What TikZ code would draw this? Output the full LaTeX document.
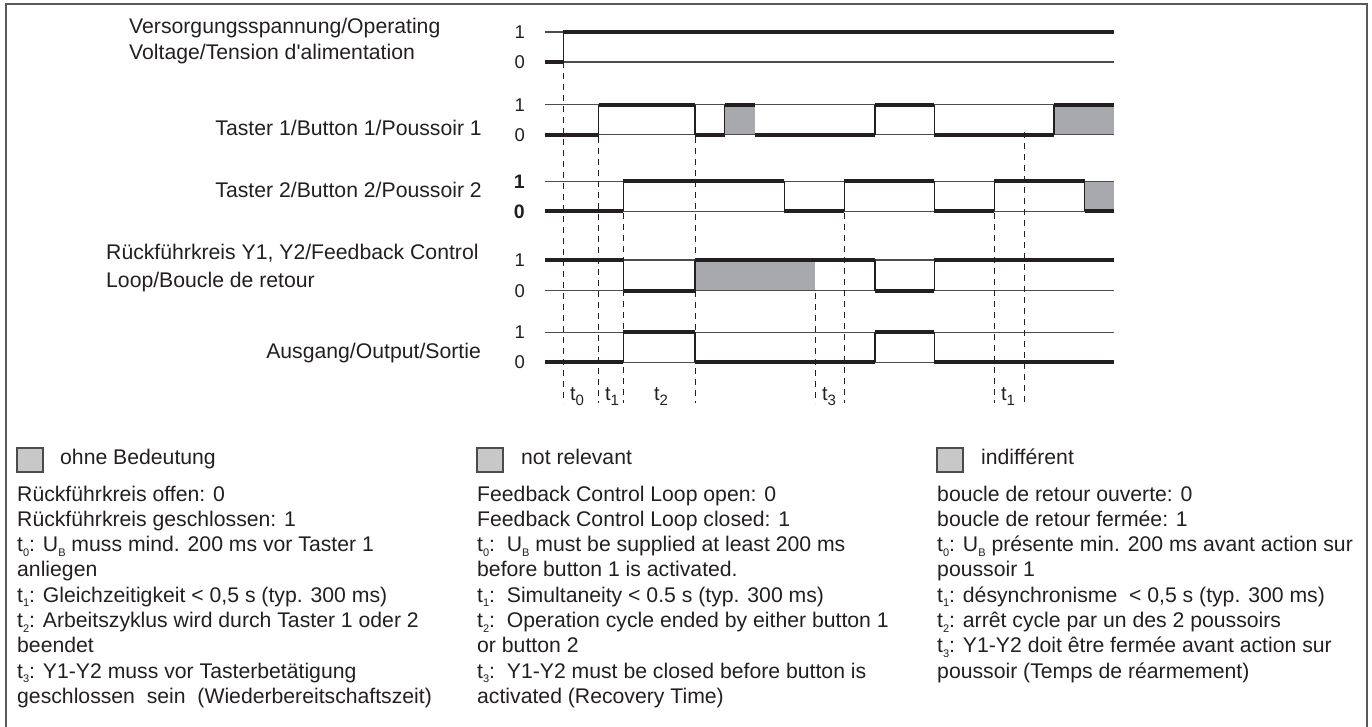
\documentclass[tikz,border=0pt]{standalone}
\usepackage{fontspec}
\setmainfont{Liberation Sans}
\definecolor{ink}{HTML}{231F20}
\definecolor{dcare}{HTML}{A7A9AC}
\definecolor{legfill}{HTML}{C8C8C8}
\newcommand\sbx[1]{\raisebox{-4.5pt}{\fontsize{11}{11}\selectfont #1}}
\newcommand\tsb[1]{\raisebox{-5pt}{\fontsize{15}{15}\selectfont #1}}
\tikzset{
 lvl/.style={line width=1.1pt, draw=black!70},
 sig/.style={line width=4pt, draw=ink},
 edgeline/.style={line width=1.3pt, draw=ink},
 dsh/.style={line width=1pt, draw=ink, dash pattern=on 6pt off 5pt},
 dcbox/.style={fill=dcare},
 lab/.style={inner sep=0pt, font=\fontsize{21.2}{25}\selectfont, text=ink},
 dig/.style={inner sep=0pt, font=\fontsize{18.5}{18.5}\selectfont, text=ink, anchor=east},
 tl/.style={inner sep=0pt, font=\fontsize{20}{20}\selectfont, text=ink, anchor=base},
 leg/.style={inner sep=0pt, font=\fontsize{21.2}{25}\selectfont, text=ink, anchor=base west},
 legbox/.style={fill=legfill, draw=black!70, line width=1.2pt},
}
\begin{document}
\begin{tikzpicture}[x=1pt,y=-1pt]
\useasboundingbox (0,0) rectangle (1372,726);
% frame
\draw[black!65, line width=1.5pt] (6,730) -- (6,4) -- (1367,4) -- (1367,730);

% row labels
\node[lab, anchor=base west] (v1) at (129,33) {Versorgungsspannung/Operating};
\node[lab, anchor=base west] (v2) at (129,59) {Voltage/Tension d\textquotesingle alimentation};
\node[lab, anchor=base east] (b1) at (482,135) {Taster 1/Button 1/Poussoir 1};
\node[lab, anchor=base east] (b2) at (482,197) {Taster 2/Button 2/Poussoir 2};
\node[lab, anchor=base west] (f1) at (106,259) {Rückführkreis Y1, Y2/Feedback Control};
\node[lab, anchor=base west] (f2) at (106,287) {Loop/Boucle de retour};
\node[lab, anchor=base east] (o1) at (481,358) {Ausgang/Output/Sortie};

% level digits
\node[dig] (d11) at (525,32) {1};
\node[dig] (d10) at (525,62) {0};
\node[dig] (d21) at (525,104.7) {1};
\node[dig] (d20) at (525,134.7) {0};
\node[dig, font=\fontsize{19.5}{19.5}\selectfont\bfseries] (d31) at (525,181.3) {1};
\node[dig, font=\fontsize{19.5}{19.5}\selectfont\bfseries] (d30) at (525,211.3) {0};
\node[dig] (d41) at (525,260) {1};
\node[dig] (d40) at (525,290.7) {0};
\node[dig] (d51) at (525,332.3) {1};
\node[dig] (d50) at (525,362.3) {0};

% don't-care areas
\fill[dcbox] (724.5,104.7) rectangle (755,134.7);
\fill[dcbox] (1054,104.7) rectangle (1114,134.7);
\fill[dcbox] (1084.7,181.3) rectangle (1114,211.3);
\fill[dcbox] (695,260) rectangle (815,290.7);

% thin level lines
\foreach \y in {32,62,104.7,134.7,181.3,211.3,260,290.7,332.3,362.3}
  \draw[lvl] (545,\y) -- (1113.5,\y);

% dashed time markers
\draw[dsh] (563.3,62) -- (563.3,403);
\draw[dsh] (598.7,137) -- (598.7,403);
\draw[dsh] (623.3,213) -- (623.3,403);
\draw[dsh] (695,137) -- (695,403);
\draw[dsh] (815,293) -- (815,403);
\draw[dsh] (844.3,213) -- (844.3,403);
\draw[dsh] (994.3,213) -- (994.3,403);
\draw[dsh] (1024,132) -- (1024,403);

% Row 1: operating voltage
\draw[sig] (545,62) -- (563.3,62);
\draw[sig] (563.3,32) -- (1113.5,32);
\draw[edgeline] (563.3,62) -- (563.3,32);

% Row 2: button 1 (hi 104.7 lo 134.7)
\draw[sig] (545,134.7) -- (598.7,134.7);
\draw[sig] (598.7,104.7) -- (695,104.7);
\draw[sig] (695,134.7) -- (724.5,134.7);
\draw[sig] (724.5,104.7) -- (755,104.7);
\draw[sig] (755,134.7) -- (875,134.7);
\draw[sig] (875,104.7) -- (934.3,104.7);
\draw[sig] (934.3,134.7) -- (1054,134.7);
\draw[sig] (1054,104.7) -- (1114,104.7);
\foreach \x in {598.7,695,724.5,875,934.3,1054}
  \draw[edgeline] (\x,104.7) -- (\x,134.7);

% Row 3: button 2 (hi 181.3 lo 211.3)
\draw[sig] (545,211.3) -- (623.3,211.3);
\draw[sig] (623.3,181.3) -- (784.3,181.3);
\draw[sig] (784.3,211.3) -- (844.3,211.3);
\draw[sig] (844.3,181.3) -- (934.3,181.3);
\draw[sig] (934.3,211.3) -- (994.3,211.3);
\draw[sig] (994.3,181.3) -- (1084.7,181.3);
\draw[sig] (1084.7,211.3) -- (1113.5,211.3);
\foreach \x in {623.3,784.3,844.3,934.3,994.3,1084.7}
  \draw[edgeline] (\x,181.3) -- (\x,211.3);

% Row 4: feedback loop (hi 260 lo 290.7)
\draw[sig] (545,260) -- (623.3,260);
\draw[sig] (623.3,290.7) -- (695,290.7);
\draw[sig] (695,260) -- (875,260);
\draw[sig] (875,290.7) -- (934.3,290.7);
\draw[sig] (934.3,260) -- (1113.5,260);
\foreach \x in {623.3,695,875,934.3}
  \draw[edgeline] (\x,260) -- (\x,290.7);

% Row 5: output (hi 332.3 lo 362.3)
\draw[sig] (545,362.3) -- (623.3,362.3);
\draw[sig] (623.3,332.3) -- (695,332.3);
\draw[sig] (695,362.3) -- (875,362.3);
\draw[sig] (875,332.3) -- (934.3,332.3);
\draw[sig] (934.3,362.3) -- (1113.5,362.3);
\foreach \x in {623.3,695,875,934.3}
  \draw[edgeline] (\x,332.3) -- (\x,362.3);

% time labels
\node[tl] (lt0) at (577,400) {t\tsb{0}};
\node[tl] (lt1) at (612,400) {t\tsb{1}};
\node[tl] (lt2) at (661,400) {t\tsb{2}};
\node[tl] (lt3) at (829,400) {t\tsb{3}};
\node[tl] (lt1b) at (1008,400) {t\tsb{1}};

% legend boxes
\draw[legbox] (17,448) rectangle (43,472);
\draw[legbox] (477,448) rectangle (503,472);
\draw[legbox] (937,448) rectangle (963,472);
\node[leg] (lg1) at (60,464) {ohne Bedeutung};
\node[leg] (lg2) at (521,464) {not relevant};
\node[leg] (lg3) at (981,464) {indifférent};

% column 1
\node[leg] (a1) at (17,501) {Rückführkreis offen: 0};
\node[leg] (a2) at (17,526.3) {Rückführkreis geschlossen: 1};
\node[leg] (a3) at (17,551.6) {t\sbx{0}: U\sbx{B} muss mind. 200 ms vor Taster 1};
\node[leg] (a4) at (17,576.9) {anliegen};
\node[leg] (a5) at (17,602.2) {t\sbx{1}: Gleichzeitigkeit < 0,5 s (typ. 300 ms)};
\node[leg] (a6) at (17,627.5) {t\sbx{2}: Arbeitszyklus wird durch Taster 1 oder 2};
\node[leg] (a7) at (17,652.8) {beendet};
\node[leg] (a8) at (17,678.1) {t\sbx{3}: Y1-Y2 muss vor Tasterbetätigung};
\node[leg] (a9) at (17,703.4) {geschlossen\ \ sein\ \ (Wiederbereitschaftszeit)};

% column 2
\node[leg] (b1l) at (477,501) {Feedback Control Loop open: 0};
\node[leg] (b2l) at (477,526.3) {Feedback Control Loop closed: 1};
\node[leg] (b3l) at (477,551.6) {t\sbx{0}:\ \ U\sbx{B} must be supplied at least 200 ms};
\node[leg] (b4l) at (477,576.9) {before button 1 is activated.};
\node[leg] (b5l) at (477,602.2) {t\sbx{1}:\ \ Simultaneity < 0.5 s (typ. 300 ms)};
\node[leg] (b6l) at (477,627.5) {t\sbx{2}:\ \ Operation cycle ended by either button 1};
\node[leg] (b7l) at (477,652.8) {or button 2};
\node[leg] (b8l) at (477,678.1) {t\sbx{3}:\ \ Y1-Y2 must be closed before button is};
\node[leg] (b9l) at (477,703.4) {activated (Recovery Time)};

% column 3
\node[leg] (c1) at (937,501) {boucle de retour ouverte: 0};
\node[leg] (c2) at (937,526.3) {boucle de retour fermée: 1};
\node[leg] (c3) at (937,551.6) {t\sbx{0}: U\sbx{B} présente min. 200 ms avant action sur};
\node[leg] (c4) at (937,576.9) {poussoir 1};
\node[leg] (c5) at (937,602.2) {t\sbx{1}: désynchronisme\ \ < 0,5 s (typ. 300 ms)};
\node[leg] (c6) at (937,627.5) {t\sbx{2}: arrêt cycle par un des 2 poussoirs};
\node[leg] (c7) at (937,652.8) {t\sbx{3}: Y1-Y2 doit être fermée avant action sur};
\node[leg] (c8) at (937,678.1) {poussoir (Temps de réarmement)};
\end{tikzpicture}
\end{document}
